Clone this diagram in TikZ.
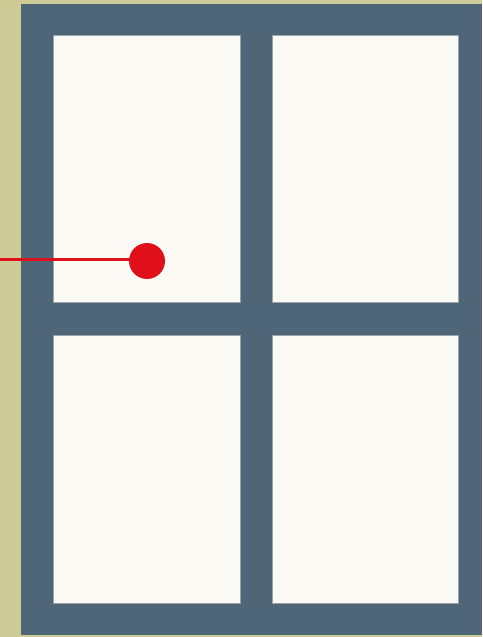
\documentclass[tikz,border=0pt]{standalone}
\usetikzlibrary{backgrounds}
\definecolor{olive}{HTML}{CFCB96}
\definecolor{slate}{HTML}{4F6678}
\definecolor{pane}{HTML}{FBFAF4}
\definecolor{paneedge}{HTML}{9AA3AC}
\definecolor{pinred}{HTML}{E0101B}
\begin{document}
\begin{tikzpicture}[x=1pt,y=-1pt,
  panebox/.style={fill=pane,draw=paneedge,line width=0.8pt}]
\useasboundingbox (0,0) rectangle (482,637);
\coordinate (start) at (0,259.5);
\node[circle,fill=pinred,minimum size=36pt,inner sep=0pt] (dot) at (147,261) {};
\begin{scope}[on background layer]
\fill[olive] (0,0) rectangle (482,637);
\fill[slate] (21,4) rectangle (482,635);
\draw[panebox] (53,35) rectangle (240,302);
\draw[panebox] (272,35) rectangle (458,302);
\draw[panebox] (53,335) rectangle (240,603);
\draw[panebox] (272,335) rectangle (458,603);
\draw[draw=pinred,line width=2.8pt] (start) -- (start -| dot.center);
\end{scope}
\end{tikzpicture}
\end{document}
